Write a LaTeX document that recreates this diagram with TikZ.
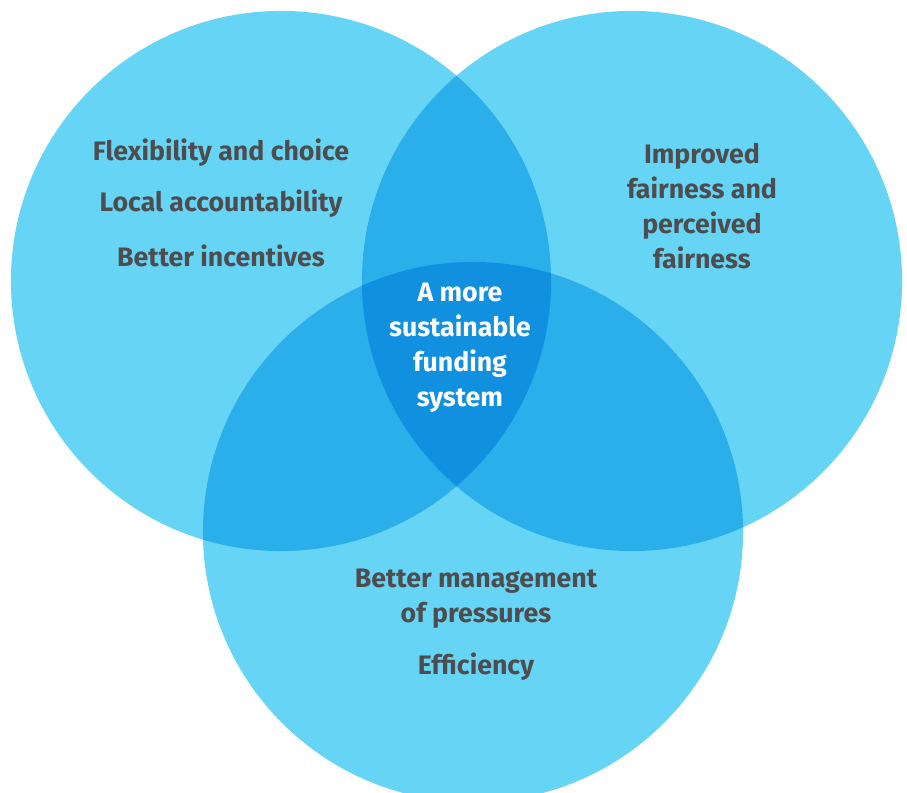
\documentclass[tikz,border=0pt]{standalone}
\usepackage{fontspec}
\setmainfont{Fira Sans}
\usetikzlibrary{positioning}

\definecolor{vennlight}{HTML}{66D5F5}
\definecolor{vennmid}{HTML}{2BAFEB}
\definecolor{venndark}{HTML}{1290E0}
\definecolor{venntext}{HTML}{4D4D4F}
\newcommand{\vennr}{6.75cm}

\begin{document}
\begin{tikzpicture}[
    x=0.025cm, y=-0.025cm,
    aim/.style={text=venntext, font=\fontsize{19}{24.9}\selectfont\bfseries,
        align=center, inner sep=0pt},
    core/.style={aim, text=white}
]
\useasboundingbox (0,0) rectangle (907,793);

\coordinate (Left) at (281,281);
\coordinate (Right) at (632,281);
\coordinate (Bottom) at (473,532);

% the three circles
\foreach \c in {Left,Right,Bottom}
    \fill[vennlight] (\c) circle[radius=\vennr];

% pairwise overlaps
\begin{scope}
    \clip (Left) circle[radius=\vennr];
    \fill[vennmid] (Right) circle[radius=\vennr];
    \fill[vennmid] (Bottom) circle[radius=\vennr];
\end{scope}
\begin{scope}
    \clip (Right) circle[radius=\vennr];
    \fill[vennmid] (Bottom) circle[radius=\vennr];
\end{scope}

% middle
\begin{scope}
    \clip (Left) circle[radius=\vennr];
    \clip (Right) circle[radius=\vennr];
    \fill[venndark] (Bottom) circle[radius=\vennr];
\end{scope}

\node (flex) [aim] at (221,153) {Flexibility and choice};
\node (local) [aim] at (221,204) {Local accountability};
\node (incent) [aim] at (221,256) {Better incentives};

\node (fair) [aim] at (702,206) {Improved\\fairness and\\perceived\\fairness};

\node (system) [core] at (460,348) {A more\\sustainable\\funding\\system};

\node (pressure) [aim] at (476,599) {Better management\\of pressures};
\node (effic) [aim] at (476,667) {Efficiency};
\end{tikzpicture}
\end{document}
